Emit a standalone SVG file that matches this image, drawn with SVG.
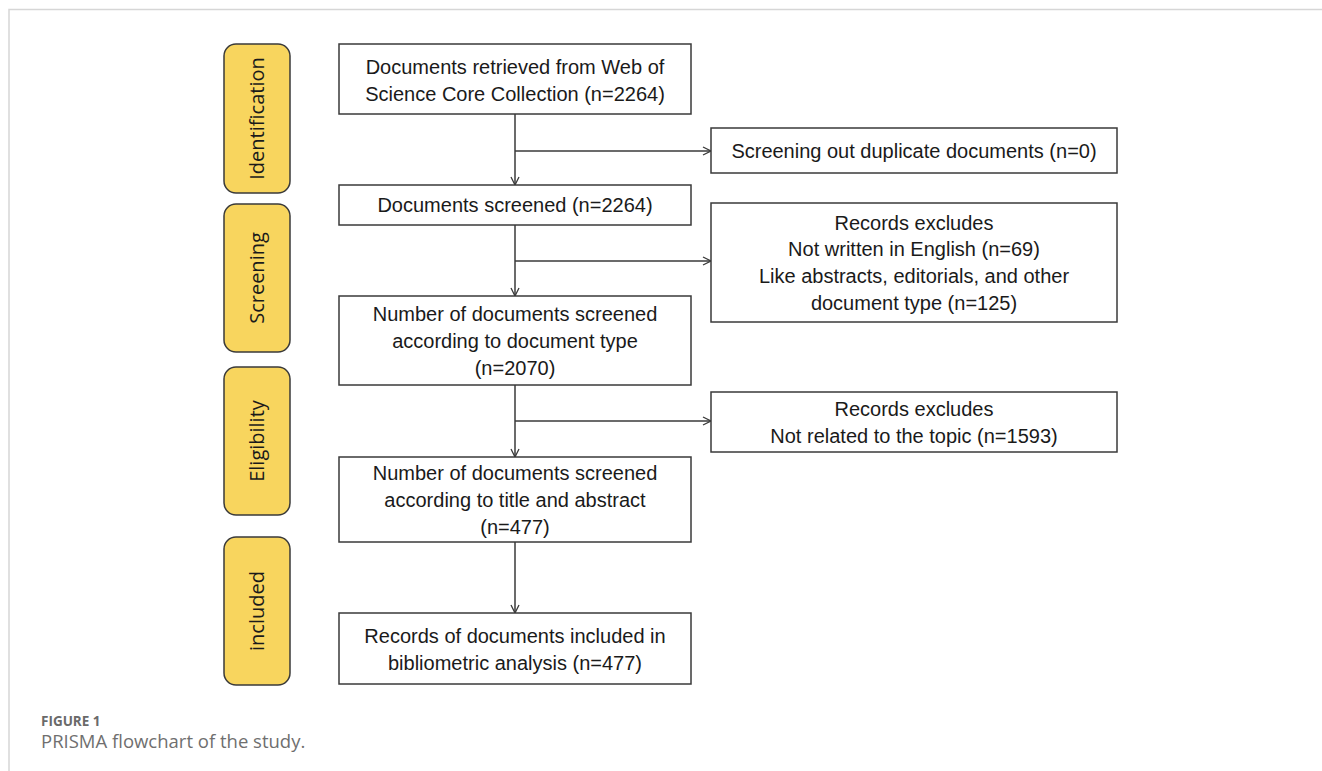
<svg xmlns="http://www.w3.org/2000/svg" width="1322" height="771" viewBox="0 0 1322 771">
<style>
.bg{fill:#ffffff}
.frame{fill:none;stroke:#d6d6d6;stroke-width:1.5}
.box{fill:#ffffff;stroke:#3a3a3a;stroke-width:1.5}
.phase{fill:#f8d55e;stroke:#3a3a3a;stroke-width:1.5}
.t{font-family:"Liberation Sans",Arial,sans-serif;font-size:20px;fill:#1a1a1a;text-anchor:middle}
.pt{font-family:"Open Sans","Noto Sans",sans-serif;font-size:20px;fill:#1a1a1a;text-anchor:middle}
.conn{fill:none;stroke:#3a3a3a;stroke-width:1.5}
.cap1{font-family:"Open Sans","Noto Sans",sans-serif;font-size:13.5px;font-weight:bold;fill:#6a6a6a}
.cap2{font-family:"Open Sans","Noto Sans",sans-serif;font-size:18.5px;fill:#6f6f6f}
</style>
<defs>
<marker id="arr" viewBox="0 0 10 10" refX="9" refY="5" markerWidth="10" markerHeight="10" markerUnits="userSpaceOnUse" orient="auto">
<path d="M1,1 L9,5 L1,9" fill="none" stroke="#3a3a3a" stroke-width="1.3"/>
</marker>
</defs>
<rect class="bg" x="0" y="0" width="1322" height="771"/>
<path class="frame" d="M9,771 L9,9.5 L1322,9.5"/>

<g id="phase-identification"><rect class="phase" x="224" y="44" width="66" height="149" rx="12"/><text class="pt" transform="translate(264,118.5) rotate(-90)">Identification</text></g>
<g id="phase-screening"><rect class="phase" x="224" y="204" width="66" height="148" rx="12"/><text class="pt" transform="translate(264,278) rotate(-90)">Screening</text></g>
<g id="phase-eligibility"><rect class="phase" x="224" y="367" width="66" height="148" rx="12"/><text class="pt" transform="translate(264,441) rotate(-90)">Eligibility</text></g>
<g id="phase-included"><rect class="phase" x="224" y="537" width="66" height="148" rx="12"/><text class="pt" transform="translate(264,611) rotate(-90)">included</text></g>

<g id="connectors">
<line class="conn" x1="515" y1="114" x2="515" y2="185" marker-end="url(#arr)"/>
<line class="conn" x1="515" y1="151" x2="711" y2="151" marker-end="url(#arr)"/>
<line class="conn" x1="515" y1="225" x2="515" y2="296" marker-end="url(#arr)"/>
<line class="conn" x1="515" y1="261" x2="711" y2="261" marker-end="url(#arr)"/>
<line class="conn" x1="515" y1="385" x2="515" y2="457" marker-end="url(#arr)"/>
<line class="conn" x1="515" y1="421" x2="711" y2="421" marker-end="url(#arr)"/>
<line class="conn" x1="515" y1="542" x2="515" y2="613" marker-end="url(#arr)"/>
</g>

<g id="n-retrieved"><rect class="box" x="339" y="44" width="352" height="70"/>
<text class="t" x="515" y="74">Documents retrieved from Web of</text>
<text class="t" x="515" y="101">Science Core Collection (n=2264)</text></g>

<g id="n-screened"><rect class="box" x="339" y="185" width="352" height="40"/>
<text class="t" x="515" y="212">Documents screened (n=2264)</text></g>

<g id="n-doctype"><rect class="box" x="339" y="296" width="352" height="89"/>
<text class="t" x="515" y="321">Number of documents screened</text>
<text class="t" x="515" y="348">according to document type</text>
<text class="t" x="515" y="375">(n=2070)</text></g>

<g id="n-title"><rect class="box" x="339" y="457" width="352" height="85"/>
<text class="t" x="515" y="480">Number of documents screened</text>
<text class="t" x="515" y="507">according to title and abstract</text>
<text class="t" x="515" y="534">(n=477)</text></g>

<g id="n-included"><rect class="box" x="339" y="613" width="352" height="71"/>
<text class="t" x="515" y="643">Records of documents included in</text>
<text class="t" x="515" y="670">bibliometric analysis (n=477)</text></g>

<g id="n-duplicates"><rect class="box" x="711" y="128" width="406" height="45"/>
<text class="t" x="914" y="158">Screening out duplicate documents (n=0)</text></g>

<g id="n-excl1"><rect class="box" x="711" y="203" width="406" height="119"/>
<text class="t" x="914" y="230">Records excludes</text>
<text class="t" x="914" y="256">Not written in English (n=69)</text>
<text class="t" x="914" y="283">Like abstracts, editorials, and other</text>
<text class="t" x="914" y="310">document type (n=125)</text></g>

<g id="n-excl2"><rect class="box" x="711" y="392" width="406" height="60"/>
<text class="t" x="914" y="416">Records excludes</text>
<text class="t" x="914" y="443">Not related to the topic (n=1593)</text></g>

<text class="cap1" x="41" y="726">FIGURE 1</text>
<text class="cap2" x="41" y="748">PRISMA flowchart of the study.</text>
</svg>
